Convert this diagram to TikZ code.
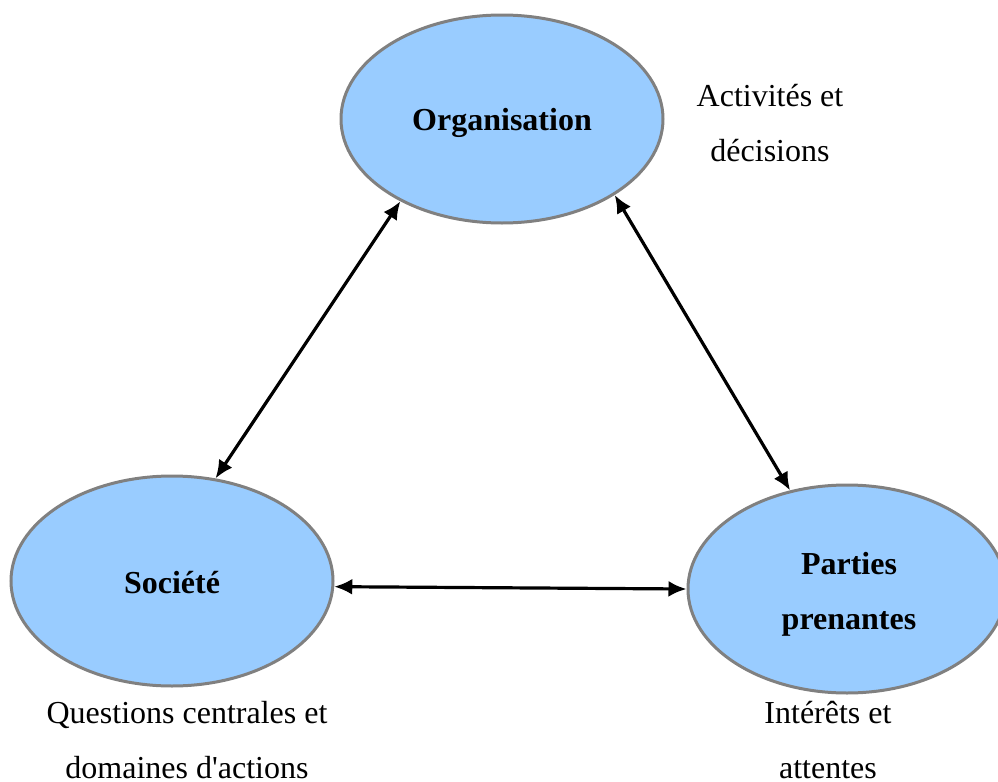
\documentclass[tikz,border=0pt]{standalone}
\usepackage{fontspec}
\setmainfont{Liberation Serif}
\usetikzlibrary{positioning}
\usetikzlibrary{shapes.geometric}
\usetikzlibrary{arrows.meta}
\definecolor{Bulle}{RGB}{153,204,255}
\definecolor{Bord}{RGB}{128,128,128}

\begin{document}
\begin{tikzpicture}[x=0.5pt,y=-0.5pt,>={Latex[length=9pt,width=8pt]},
  bulle/.style={ellipse,draw=Bord,line width=1.5pt,fill=Bulle,inner sep=0pt},
  titre/.style={font=\fontsize{16}{27.5}\selectfont\bfseries,align=center},
  legende/.style={font=\fontsize{16}{27.5}\selectfont,align=center}]
\useasboundingbox (0,0) rectangle (998,782);

\node[bulle,minimum width=161pt,minimum height=104pt] (org) at (502,119) {};
\node[bulle,minimum width=161pt,minimum height=105pt] (soc) at (172,581) {};
\node[bulle,minimum width=159pt,minimum height=104pt] (pp) at (847,589) {};

\node[titre] (orgt) at ([yshift=-2pt]org) {Organisation};
\node[titre] (soct) at ([yshift=-1pt]soc) {Société};
\node[titre] (ppt) at ([yshift=-2.5pt,xshift=1pt]pp) {Parties\\prenantes};

\node[legende] (act) at (770,123) {Activités et\\décisions};
\node[legende] (qst) at (187,740) {Questions centrales et\\domaines d\textquotesingle actions};
\node[legende] (int) at (828,740) {Intérêts et\\attentes};

\draw[line width=1.6pt,<->] (org.219) -- (soc.67);
\draw[line width=1.6pt,<->] (org.326) -- (pp.120);
\draw[line width=1.6pt,<->] (soc.358) -- (pp.180);
\end{tikzpicture}
\end{document}
